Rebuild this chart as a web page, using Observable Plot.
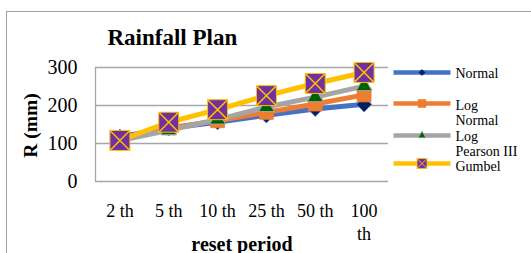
<!DOCTYPE html>
<html>
<head>
<meta charset="utf-8">
<script src="https://cdn.jsdelivr.net/npm/d3@7"></script>
<script src="https://cdn.jsdelivr.net/npm/@observablehq/plot@0.6"></script>
<style>
  html, body { margin: 0; padding: 0; background: #fff; }
  #wrap { position: relative; width: 531px; height: 253px; overflow: hidden; }
  #border { position: absolute; left: 5.5px; top: 10.5px; right: -5px; bottom: -5px;
            border-top: 1.5px solid #a0a0a0; border-left: 1.5px solid #a0a0a0; }
  #legend { position: absolute; left: 388px; top: 0; }
  #wrap svg { overflow: visible; }
  #wrap svg, #wrap svg text, #wrap svg g { font-family: "Liberation Serif", "Times New Roman", serif !important; }
</style>
</head>
<body>
<div id="wrap"><div id="border"></div><div id="main"></div><div id="legend"></div></div>
<script>
// ---- data ----
const periods = ["2 th", "5 th", "10 th", "25 th", "50 th", "100 th"];
const seriesNames = ["Normal", "Log Normal", "Log Pearson III", "Gumbel"];
const normal     = [118, 140, 156, 174, 191, 203];
const logNormal  = [108, 141, 160, 182, 204, 228];
const logPearson = [108, 135, 163, 196, 222, 251];
const gumbel     = [108, 156, 189, 226, 258, 287];
const yTicks = [0, 100, 200, 300];

const font = "Liberation Serif";
const rows = vals => vals.map((v, i) => ({i, v}));

const styles = [
  {line: "#4472C4", marks: [{symbol: "diamond2", r: 6.8, fill: "#002060", stroke: "#4472C4", strokeWidth: 0.75}],
   legendMarks: [{symbol: "diamond2", r: 2.8, fill: "#002060", stroke: "#002060", strokeWidth: 0.5}]},
  {line: "#ED7D31", marks: [{symbol: "square", r: 7.9, fill: "#ED7D31", stroke: "#ED7D31", strokeWidth: 0.75}],
   legendMarks: [{symbol: "square", r: 4.5, fill: "#ED7D31", stroke: "#ED7D31", strokeWidth: 0.5}]},
  {line: "#A5A5A5", marks: [{symbol: "triangle", r: 5.8, fill: "#006100", stroke: "#A5A5A5", strokeWidth: 1}],
   legendMarks: [{symbol: "triangle", r: 2.8, fill: "#006100", stroke: "#A5A5A5", strokeWidth: 0.75}]},
  {line: "#FFC000", marks: [{symbol: "square", r: 11.28, fill: "#7030A0", stroke: "#FFC000", strokeWidth: 1},
                            {symbol: "times", r: 9.1, stroke: "#FFC000", strokeWidth: 1.5}],
   legendMarks: [{symbol: "square", r: 5.6, fill: "#7030A0", stroke: "#FFC000", strokeWidth: 0.75},
                 {symbol: "times", r: 4.6, stroke: "#FFC000", strokeWidth: 1}]}
];
const allValues = [normal, logNormal, logPearson, gumbel];

const seriesMarks = allValues.flatMap((vals, k) => {
  const st = styles[k];
  return [
    Plot.line(rows(vals), {x: "i", y: "v", stroke: st.line, strokeWidth: 5, strokeLinecap: "butt", strokeLinejoin: "round"}),
    ...st.marks.map(m => Plot.dot(rows(vals), {x: "i", y: "v", ...m}))
  ];
});

const main = Plot.plot({
  width: 531, height: 253,
  marginLeft: 95, marginRight: 143, marginTop: 67, marginBottom: 72,
  style: {fontFamily: font, color: "#000", background: "transparent"},
  x: {domain: [-0.5, periods.length - 0.5]},
  y: {domain: [0, 300]},
  marks: [
    Plot.gridY(yTicks, {stroke: "#a6a6a6", strokeOpacity: 1, strokeWidth: 1.3}),
    Plot.ruleX([-0.5], {stroke: "#a6a6a6", strokeWidth: 1.3}),
    Plot.axisY(yTicks, {tickSize: 0, tickPadding: 18, fontSize: 20, label: null, fill: "#000"}),
    Plot.axisX(d3.range(periods.length), {
      tickSize: 0, tickPadding: 20, fontSize: 18, label: null, lineHeight: 1.25, fill: "#000",
      tickFormat: i => periods[i].length > 5 ? periods[i].replace(" ", "\n") : periods[i]
    }),
    ...seriesMarks,
    Plot.text(["Rainfall Plan"], {frameAnchor: "top-left", textAnchor: "start", lineAnchor: "middle",
      dx: 12, dy: -29.4, fontSize: 23, fontWeight: "bold", fill: "#000"}),
    Plot.text(["reset period"], {frameAnchor: "bottom", textAnchor: "middle", lineAnchor: "middle",
      dy: 62.6, fontSize: 20, fontWeight: "bold", fill: "#000"}),
    Plot.text(["R (mm)"], {frameAnchor: "left", textAnchor: "middle", lineAnchor: "middle",
      dx: -65, dy: 1, rotate: -90, fontSize: 19.5, fontWeight: "bold", fill: "#000"})
  ]
});
document.getElementById("main").appendChild(main);

// ---- legend ----
const legendY = [72, 103, 135, 163];
const legendTextTop = [67, 99, 130, 160];
const legendRows = seriesNames.map((name, k) => ({k, name, label: name.replace(" ", "\n"), y: legendY[k], ty: legendTextTop[k]}));
const legendMarks = legendRows.flatMap(r => {
  const st = styles[r.k];
  return [
    Plot.link([r], {x1: () => 5, x2: () => 62, y1: "y", y2: "y", stroke: st.line, strokeWidth: 4.5}),
    ...st.legendMarks.map(m => Plot.dot([r], {x: () => 33.5, y: "y", ...m}))
  ];
});
const legend = Plot.plot({
  width: 143, height: 253, margin: 0,
  style: {fontFamily: font, color: "#000", background: "transparent"},
  x: {domain: [0, 143], range: [0, 143], axis: null},
  y: {domain: [0, 253], range: [0, 253], axis: null},
  marks: [
    ...legendMarks,
    Plot.text(legendRows, {x: () => 67, y: "ty", text: "label", textAnchor: "start", lineAnchor: "top",
      fontSize: 14, lineHeight: 1.05, fill: "#000"})
  ]
});
document.getElementById("legend").appendChild(legend);
</script>
</body>
</html>
